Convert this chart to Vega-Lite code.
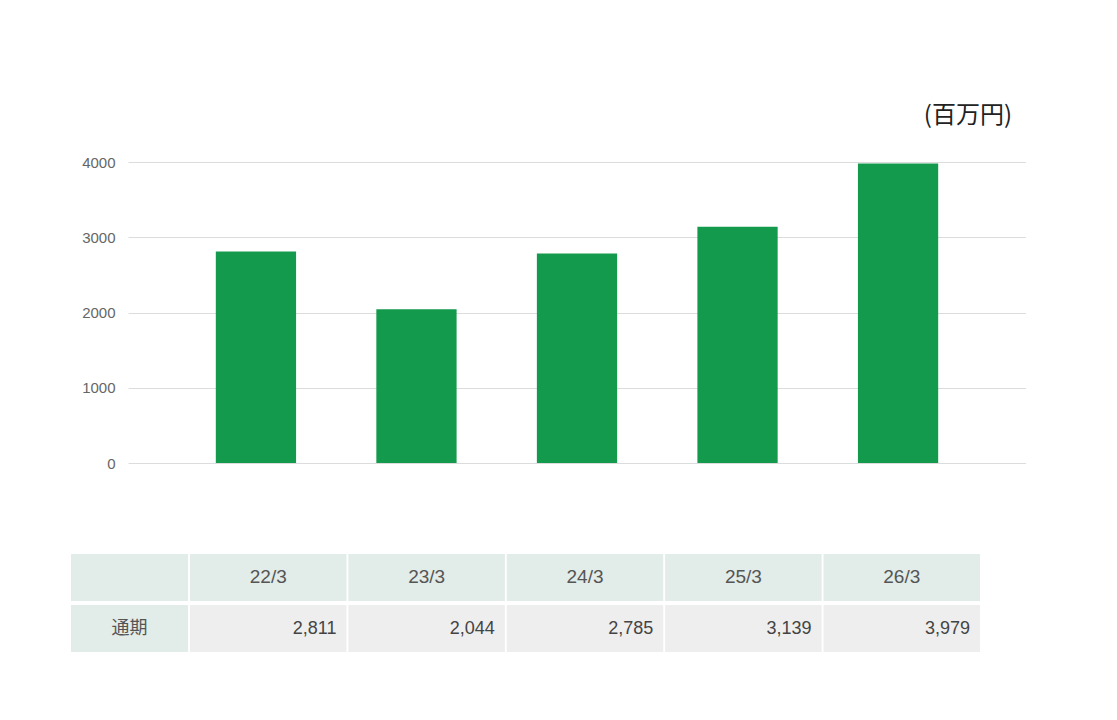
{
  "$schema": "https://vega.github.io/schema/vega-lite/v6.json",
  "description": "通期 bar chart with a data table below.",
  "background": "white",
  "padding": {"left": 71, "top": 104, "right": 0, "bottom": 0},
  "datasets": {
    "bars": [
      {"period": "22/3", "value": 2811},
      {"period": "23/3", "value": 2044},
      {"period": "24/3", "value": 2785},
      {"period": "25/3", "value": 3139},
      {"period": "26/3", "value": 3979}
    ],
    "rows": [
      {"row": "h", "label": ""},
      {"row": "v", "label": "通期"}
    ]
  },
  "spacing": 83,
  "vconcat": [
    {
      "data": {"name": "bars"},
      "width": 898,
      "height": 301,
      "title": {
        "text": "(百万円)",
        "anchor": "end",
        "font": "Noto Sans CJK JP",
        "fontSize": 24,
        "fontWeight": "normal",
        "color": "#222222",
        "baseline": "bottom",
        "offset": 3,
        "dx": -14
      },
      "mark": {"type": "bar", "color": "#149a4c"},
      "encoding": {
        "x": {
          "field": "period",
          "type": "nominal",
          "sort": null,
          "scale": {"paddingInner": 0.5, "paddingOuter": 0.547},
          "axis": null
        },
        "y": {
          "field": "value",
          "type": "quantitative",
          "scale": {"domain": [0, 4000], "nice": false},
          "axis": {
            "values": [0, 1000, 2000, 3000, 4000],
            "format": "d",
            "title": null,
            "ticks": false,
            "domain": false,
            "labelPadding": 13,
            "labelFont": "Liberation Sans",
            "labelFontSize": 15,
            "labelColor": "#666666",
            "gridColor": "#dcdcdc",
            "minExtent": 57
          }
        }
      }
    },
    {
      "spacing": 1,
      "hconcat": [
        {
          "data": {"name": "rows"},
          "width": 60,
          "height": 98,
          "layer": [
            {
              "mark": {"type": "rect", "color": "#e2ece8"}
            },
            {
              "mark": {
                "type": "text",
                "font": "Noto Sans CJK JP",
                "fontSize": 18,
                "color": "#555555"
              },
              "encoding": {"text": {"field": "label"}}
            }
          ],
          "encoding": {
            "x": {
              "datum": "c",
              "type": "nominal",
              "scale": {"range": [-57, 60], "paddingInner": 0, "paddingOuter": 0},
              "axis": null
            },
            "y": {
              "field": "row",
              "type": "nominal",
              "scale": {"domain": ["h", "v"], "paddingInner": 0.08, "paddingOuter": 0},
              "axis": null
            }
          }
        },
        {
          "data": {"name": "bars"},
          "width": 790,
          "height": 98,
          "encoding": {
            "x": {
              "field": "period",
              "type": "nominal",
              "sort": null,
              "scale": {"paddingInner": 0.012, "paddingOuter": 0},
              "axis": null
            }
          },
          "layer": [
            {
              "mark": {"type": "rect", "color": "#e2ece8"},
              "encoding": {
                "y": {
                  "datum": "h",
                  "type": "nominal",
                  "scale": {"domain": ["h", "v"], "paddingInner": 0.08, "paddingOuter": 0},
                  "axis": null
                }
              }
            },
            {
              "mark": {"type": "rect", "color": "#eeeeee"},
              "encoding": {"y": {"datum": "v", "type": "nominal"}}
            },
            {
              "mark": {
                "type": "text",
                "font": "Liberation Sans",
                "fontSize": 19,
                "color": "#555555"
              },
              "encoding": {
                "y": {"datum": "h", "type": "nominal"},
                "text": {"field": "period"}
              }
            },
            {
              "mark": {
                "type": "text",
                "align": "right",
                "dx": -10,
                "font": "Liberation Sans",
                "fontSize": 18,
                "color": "#444444"
              },
              "encoding": {
                "x": {"field": "period", "type": "nominal", "sort": null, "bandPosition": 1},
                "y": {"datum": "v", "type": "nominal"},
                "text": {"field": "value", "type": "quantitative", "format": ","}
              }
            }
          ]
        }
      ]
    }
  ],
  "config": {
    "view": {"stroke": null}
  }
}
